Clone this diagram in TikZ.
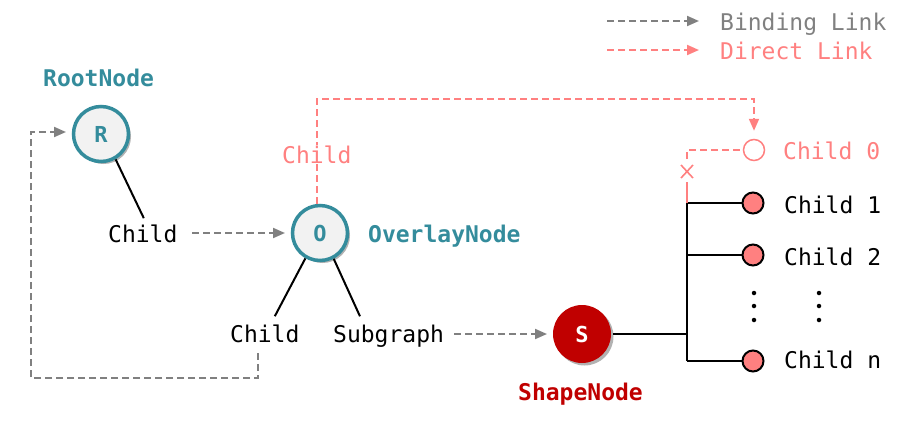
\documentclass[tikz,border=0pt]{standalone}
\usepackage{fontspec}
\setmonofont{DejaVu Sans Mono}
\usetikzlibrary{arrows.meta,shadows,calc}
\definecolor{tealc}{RGB}{52,140,156}
\definecolor{shapered}{RGB}{192,0,0}
\definecolor{pinkc}{RGB}{255,128,128}
\definecolor{grayc}{RGB}{128,128,128}
\definecolor{lightfill}{RGB}{242,242,242}
\begin{document}
\begin{tikzpicture}[x=1pt,y=-1pt,
  txt/.style={font=\ttfamily\fontsize{23}{27}\selectfont, inner sep=0pt, anchor=base west},
  lbl/.style={font=\ttfamily\bfseries\fontsize{23}{27}\selectfont, inner sep=0pt, anchor=base west},
  bignode/.style={circle, minimum size=55pt, inner sep=0pt, line width=3.5pt,
    font=\ttfamily\bfseries\fontsize{22}{24}\selectfont,
    drop shadow={shadow xshift=2.5pt, shadow yshift=-2.5pt, opacity=0.3, fill=black}},
  smallnode/.style={circle, minimum size=21pt, inner sep=0pt},
  bind/.style={draw=grayc, line width=2pt, dash pattern=on 7pt off 4pt},
  direct/.style={draw=pinkc, line width=2pt, dash pattern=on 7pt off 4pt},
  tip/.style={-{Triangle[length=12pt,width=10pt]}},
  solid link/.style={draw=black, line width=2pt},
  dotmark/.style={circle, fill=black, inner sep=0pt, minimum size=4.5pt}
]
\useasboundingbox (0,0) rectangle (910,421);

% legend
\coordinate (lg1a) at (607,21);
\coordinate (lg1b) at (699,21);
\coordinate (lg2a) at (607,50);
\coordinate (lg2b) at (699,50);
\draw[bind,tip,grayc] (lg1a) -- (lg1b);
\draw[direct,tip,pinkc] (lg2a) -- (lg2b);
\node[txt,text=grayc] (legb) at (720,30) {Binding Link};
\node[txt,text=pinkc] (legd) at (720,59) {Direct Link};

% main nodes
\node[bignode, draw=tealc, fill=lightfill, text=tealc] (R) at (101,134) {R};
\node[lbl,text=tealc] (Rl) at (43,86) {RootNode};
\node[bignode, draw=tealc, fill=lightfill, text=tealc] (O) at (320,233) {O};
\node[lbl,text=tealc] (Ol) at (368,242) {OverlayNode};
\node[bignode, draw=none, fill=shapered, text=white, minimum size=58pt] (S) at (582,334) {S};
\node[lbl,text=shapered] (Sl) at (518,400) {ShapeNode};

% texts
\node[txt] (c1) at (108,242) {Child};
\node[txt] (c2) at (230,342) {Child};
\node[txt] (sg) at (333,342) {Subgraph};

% tree lines
\draw[solid link] (R.-60) -- ($(c1.north)+(1,-6)$);
\draw[solid link] (O.-120) -- ($(c2.north)+(10,-8)$);
\draw[solid link] (O.-62) -- ($(sg.north west)+(27,-8)$);

% binding links
\coordinate (b1s) at (192,233);
\coordinate (b1e) at (285,233);
\draw[bind,tip,grayc] (b1s) -- (b1e);
\coordinate (b2s) at (454,334);
\coordinate (b2e) at (547,334);
\draw[bind,tip,grayc] (b2s) -- (b2e);
\coordinate (b3s) at (258,353);
\coordinate (b3e) at (66,132);
\draw[bind,tip,grayc] (b3s) -- (258,378) -- (31,378) -- (31,132) -- (b3e);

% children
\coordinate (trunkT) at (687,203);
\coordinate (trunkM) at (687,334);
\coordinate (trunkB) at (687,361);
\coordinate (br2) at (687,255);
\node[smallnode, draw=black, line width=2pt, fill=pinkc] (k1) at (753,203) {};
\node[smallnode, draw=black, line width=2pt, fill=pinkc] (k2) at (753,255) {};
\node[smallnode, draw=black, line width=2pt, fill=pinkc] (kn) at (753,361) {};
\node[smallnode, draw=pinkc, line width=1.5pt, fill=white] (k0) at (754,150) {};
\node[txt] (t1) at (784,213) {Child 1};
\node[txt] (t2) at (784,265) {Child 2};
\node[txt] (tn) at (784,368) {Child n};
\node[txt,text=pinkc] (t0) at (783,159) {Child 0};
\node[dotmark] (d1) at (754,293) {};
\node[dotmark] (d2) at (754,306) {};
\node[dotmark] (d3) at (754,320) {};
\node[dotmark] (e1) at (819,293) {};
\node[dotmark] (e2) at (819,306) {};
\node[dotmark] (e3) at (819,320) {};

\draw[solid link] (S.east) -- (trunkM);
\draw[solid link] (trunkT) -- (trunkB);
\draw[solid link] (trunkT) -- (k1.west);
\draw[solid link] (br2) -- (k2.west);
\draw[solid link] (trunkB) -- (kn.west);

% direct links
\coordinate (xlow) at (687,182);
\coordinate (xhigh) at (687,159);
\draw[direct, dash pattern=on 20pt off 0pt] (trunkT) -- (xlow);
\draw[direct] (xhigh) -- (687,150) -- (k0.west);
\draw[pinkc, line width=1.6pt] (681,165) -- (693,178) (681,178) -- (693,165);
\coordinate (otop) at ($(O.north)+(-3,0)$);
\coordinate (k0top) at ($(k0.north)+(0,-8)$);
\draw[direct,tip,pinkc] (otop) -- (317,99) -- (754,99) -- (k0top);
\node[txt,text=pinkc,fill=white] (pc) at (282,163) {Child};
\end{tikzpicture}
\end{document}
